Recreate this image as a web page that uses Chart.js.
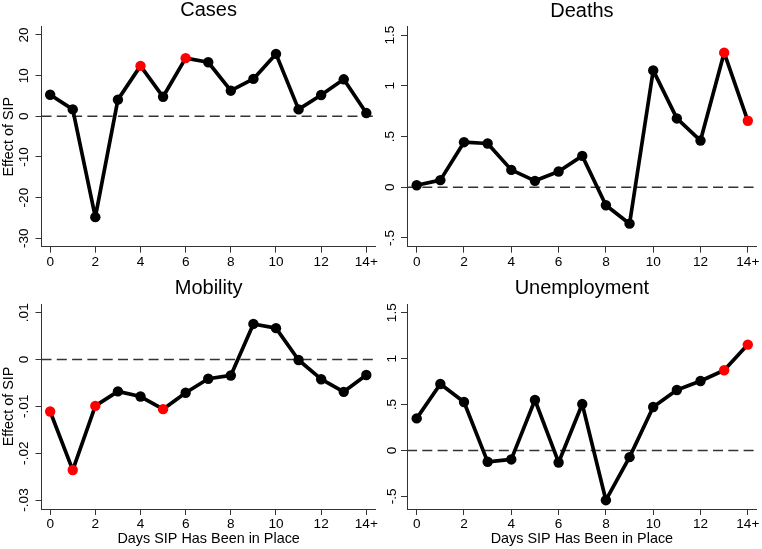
<!DOCTYPE html>
<html>
<head>
<meta charset="utf-8">
<script src="https://cdn.jsdelivr.net/npm/chart.js@4.4.1/dist/chart.umd.min.js"></script>
<style>
  body { margin: 0; background: #fff; }
  #wrap { position: relative; width: 762px; height: 549px; }
  canvas { position: absolute; }
</style>
</head>
<body>
<div id="wrap">
  <canvas id="cases" width="381" height="275" style="left:0;top:0"></canvas>
  <canvas id="deaths" width="381" height="275" style="left:381px;top:0"></canvas>
  <canvas id="mobility" width="381" height="274" style="left:0;top:275px"></canvas>
  <canvas id="unemp" width="381" height="274" style="left:381px;top:275px"></canvas>
</div>
<script>
// days since SIP, last one is "14+"
const days = [0, 1, 2, 3, 4, 5, 6, 7, 8, 9, 10, 11, 12, 13, 14];
const xTicks = [0, 2, 4, 6, 8, 10, 12, 14];
const xTickLabels = ['0', '2', '4', '6', '8', '10', '12', '14+'];

const casesValues = [5.3, 1.7, -24.8, 4.1, 12.4, 4.8, 14.3, 13.3, 6.3, 9.2, 15.35, 1.7, 5.25, 9.1, 0.8];
const casesSig    = [0, 0, 0, 0, 1, 0, 1, 0, 0, 0, 0, 0, 0, 0, 0];
const casesTicks = [-30, -20, -10, 0, 10, 20];
const casesTickLabels = ['-30', '-20', '-10', '0', '10', '20'];

const deathsValues = [0.02, 0.07, 0.444, 0.431, 0.171, 0.063, 0.155, 0.309, -0.178, -0.359, 1.151, 0.678, 0.46, 1.326, 0.655];
const deathsSig    = [0, 0, 0, 0, 0, 0, 0, 0, 0, 0, 0, 0, 0, 1, 1];
const deathsTicks = [-0.5, 0, 0.5, 1, 1.5];
const deathsTickLabels = ['-.5', '0', '.5', '1', '1.5'];

const mobilityValues = [-0.0111, -0.0236, -0.0099, -0.0068, -0.0079, -0.0106, -0.0071, -0.0041, -0.0034, 0.0076, 0.0067, -0.0001, -0.0042, -0.0069, -0.0033];
const mobilitySig    = [1, 1, 1, 0, 0, 1, 0, 0, 0, 0, 0, 0, 0, 0, 0];
const mobilityTicks = [-0.03, -0.02, -0.01, 0, 0.01];
const mobilityTickLabels = ['-.03', '-.02', '-.01', '0', '.01'];

const unempValues = [0.349, 0.724, 0.527, -0.124, -0.098, 0.549, -0.131, 0.505, -0.542, -0.073, 0.473, 0.658, 0.756, 0.873, 1.153];
const unempSig    = [0, 0, 0, 0, 0, 0, 0, 0, 0, 0, 0, 0, 0, 1, 1];
const unempTicks = [-0.5, 0, 0.5, 1, 1.5];
const unempTickLabels = ['-.5', '0', '.5', '1', '1.5'];

const FONT = "'Liberation Sans', Arial, Helvetica, sans-serif";
const AXIS = '#333';

// dashed line at zero
const zeroLine = {
  id: 'zeroLine',
  beforeDatasetsDraw(chart) {
    const { ctx, chartArea, scales } = chart;
    const y = scales.y.getPixelForValue(0);
    ctx.save();
    ctx.strokeStyle = '#333';
    ctx.lineWidth = 1.6;
    ctx.setLineDash([10, 5.3]);
    ctx.beginPath();
    ctx.moveTo(chartArea.left, y);
    ctx.lineTo(chartArea.right, y);
    ctx.stroke();
    ctx.restore();
  }
};

function panel(id, p) {
  const canvas = document.getElementById(id);
  const W = canvas.width, H = canvas.height;
  const pts = days.map((d, i) => ({ x: d, y: p.values[i] }));
  const colors = p.sig.map(s => s ? '#ff0000' : '#000000');

  new Chart(canvas, {
    type: 'line',
    data: {
      datasets: [{
        data: pts,
        borderColor: '#000',
        borderWidth: 3.7,
        borderJoinStyle: 'round',
        borderCapStyle: 'round',
        tension: 0,
        pointRadius: 5.2,
        pointBorderWidth: 0,
        pointBackgroundColor: colors,
        pointBorderColor: colors
      }]
    },
    options: {
      responsive: false,
      animation: false,
      layout: { padding: { left: 0, top: 0, bottom: 0, right: W - p.area.right } },
      plugins: {
        legend: { display: false },
        tooltip: { enabled: false },
        title: {
          display: true,
          text: p.title,
          fullSize: false,
          color: '#000',
          font: { family: FONT, size: 20, weight: 'normal', lineHeight: 1 },
          padding: { top: p.titleTop, bottom: p.area.top - 20 - p.titleTop }
        }
      },
      scales: {
        x: {
          type: 'linear',
          min: p.xMin,
          max: p.xMax,
          afterBuildTicks: s => { s.ticks = xTicks.map(v => ({ value: v })); },
          afterFit: s => { s.height = H - p.area.bottom; },
          grid: { drawOnChartArea: false, tickLength: 6, color: AXIS, tickWidth: 1 },
          border: { color: AXIS, width: 1 },
          ticks: {
            autoSkip: false,
            maxRotation: 0,
            padding: 1,
            color: '#000',
            font: { family: FONT, size: 13.6 },
            callback: v => xTickLabels[xTicks.indexOf(v)]
          },
          title: {
            display: p.xTitle,
            text: 'Days SIP Has Been in Place',
            color: '#000',
            font: { family: FONT, size: 14.4 },
            padding: { top: 0, bottom: 1.4 }
          }
        },
        y: {
          min: p.yMin,
          max: p.yMax,
          afterBuildTicks: s => { s.ticks = p.ticks.map(v => ({ value: v })); },
          afterFit: s => { s.width = p.area.left; },
          grid: { drawOnChartArea: false, tickLength: 6, color: AXIS, tickWidth: 1 },
          border: { color: AXIS, width: 1 },
          ticks: {
            minRotation: 90,
            maxRotation: 90,
            crossAlign: 'center',
            padding: p.yPad,
            color: '#000',
            font: { family: FONT, size: 13.6 },
            callback: v => p.tickLabels[p.ticks.indexOf(v)]
          },
          title: {
            display: p.yTitle,
            text: 'Effect of SIP',
            color: '#000',
            font: { family: FONT, size: 14.4 },
            padding: { top: 0, bottom: 0 }
          }
        }
      }
    },
    plugins: [zeroLine]
  });
}

panel('cases', {
  title: 'Cases', values: casesValues, sig: casesSig,
  ticks: casesTicks, tickLabels: casesTickLabels,
  yMin: -32.07, yMax: 22.04, xMin: -0.384, xMax: 14.42,
  area: { left: 41.5, right: 376.5, top: 26.7, bottom: 246.7 },
  titleTop: 0.7, yPad: 1.5, xTitle: false, yTitle: true
});
panel('deaths', {
  title: 'Deaths', values: deathsValues, sig: deathsSig,
  ticks: deathsTicks, tickLabels: deathsTickLabels,
  yMin: -0.586, yMax: 1.582, xMin: -0.41, xMax: 14.38,
  area: { left: 26, right: 377.7, top: 26.7, bottom: 246.7 },
  titleTop: 1.2, yPad: 1.4, xTitle: false, yTitle: false
});
panel('mobility', {
  title: 'Mobility', values: mobilityValues, sig: mobilitySig,
  ticks: mobilityTicks, tickLabels: mobilityTickLabels,
  yMin: -0.03192, yMax: 0.01186, xMin: -0.384, xMax: 14.42,
  area: { left: 41.5, right: 376.5, top: 29, bottom: 234 },
  titleTop: 3.5, yPad: -0.5, xTitle: true, yTitle: true
});
panel('unemp', {
  title: 'Unemployment', values: unempValues, sig: unempSig,
  ticks: unempTicks, tickLabels: unempTickLabels,
  yMin: -0.638, yMax: 1.595, xMin: -0.41, xMax: 14.38,
  area: { left: 26, right: 377.7, top: 29, bottom: 234 },
  titleTop: 3, yPad: -0.4, xTitle: true, yTitle: false
});
</script>
</body>
</html>
